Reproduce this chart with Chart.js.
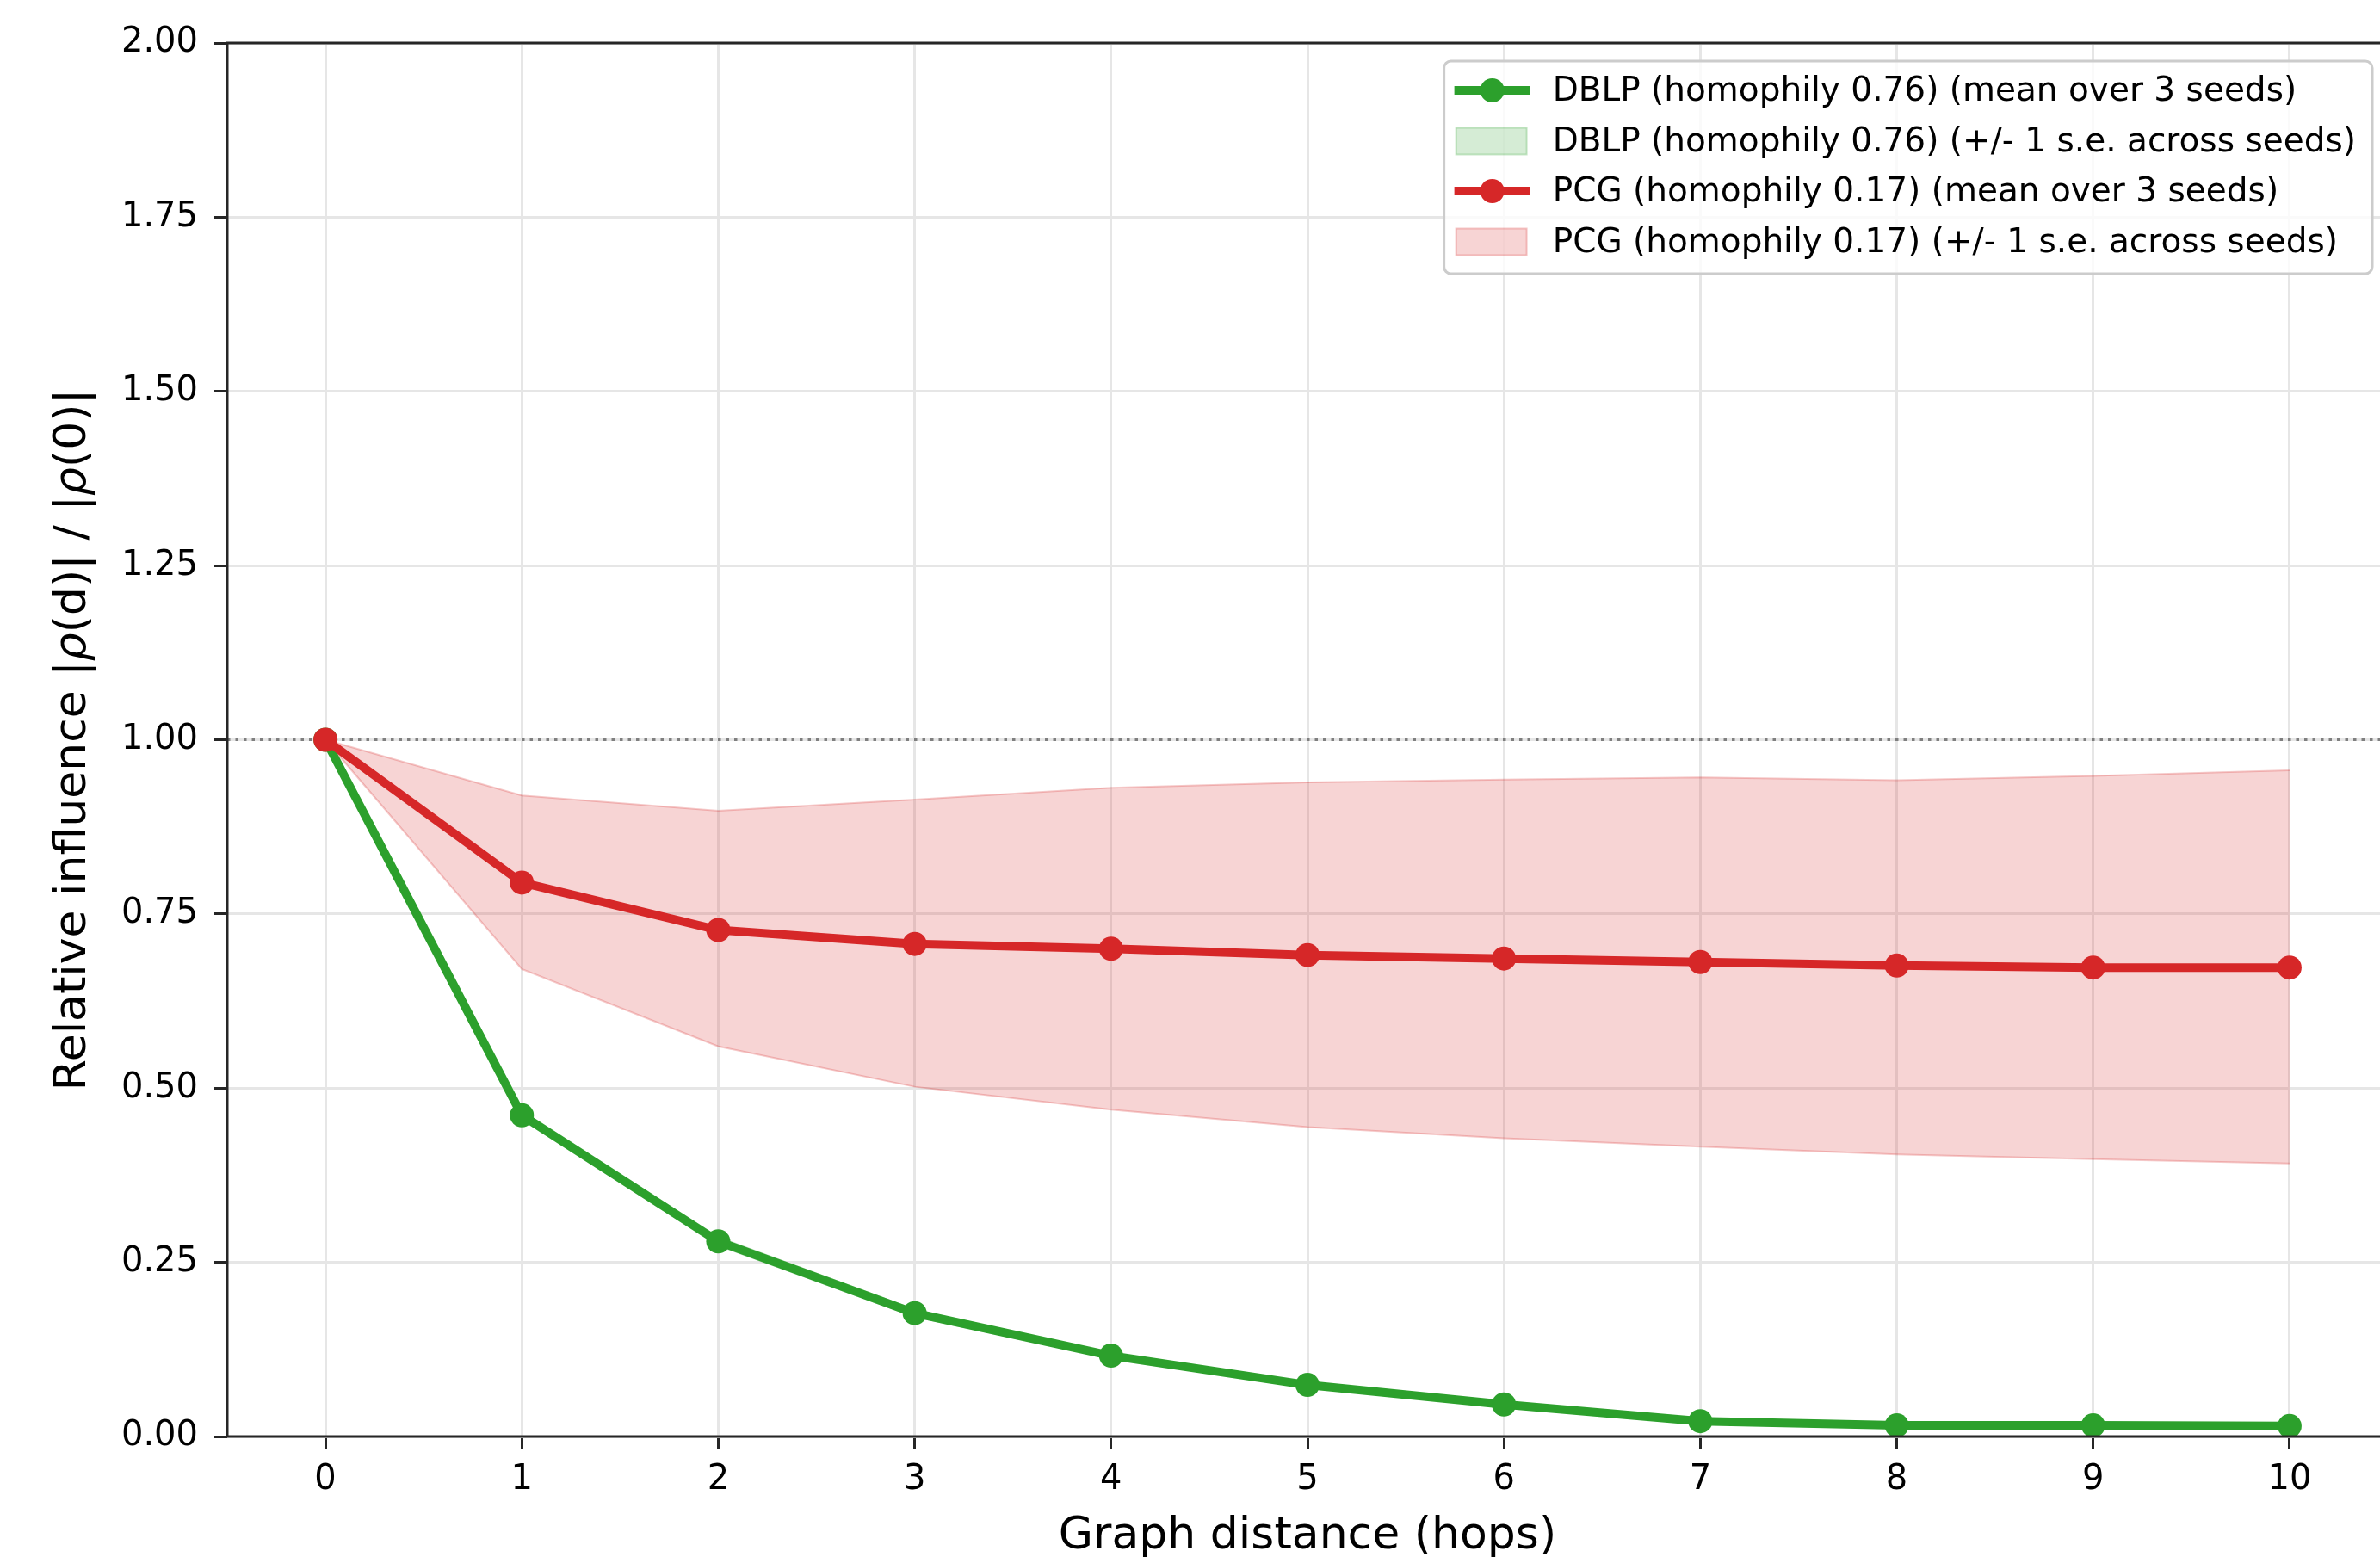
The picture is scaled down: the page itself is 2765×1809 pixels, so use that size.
<!DOCTYPE html>
<html>
<head>
<meta charset="utf-8">
<script src="https://cdn.jsdelivr.net/npm/chart.js@4.4.1/dist/chart.umd.min.js"></script>
<style>
  html, body { margin: 0; padding: 0; background: #fff; overflow: hidden; }
  #wrap { width: 2788px; height: 1809px; }
</style>
</head>
<body>
<div id="wrap"><canvas id="influence" width="2788" height="1809"></canvas></div>
<script>
// values
const distances = [0, 1, 2, 3, 4, 5, 6, 7, 8, 9, 10];
const yTicks = [0, 0.25, 0.5, 0.75, 1.0, 1.25, 1.5, 1.75, 2.0];

const dblpMean  = [1.0, 0.461, 0.280, 0.177, 0.116, 0.074, 0.046, 0.022, 0.016, 0.016, 0.015];
const dblpUpper = [1.0, 0.467, 0.286, 0.182, 0.119, 0.077, 0.048, 0.024, 0.017, 0.017, 0.016];
const dblpLower = [1.0, 0.455, 0.274, 0.172, 0.112, 0.071, 0.044, 0.021, 0.015, 0.015, 0.014];

const pcgMean  = [1.0, 0.795, 0.727, 0.707, 0.700, 0.691, 0.686, 0.681, 0.676, 0.673, 0.673];
const pcgUpper = [1.0, 0.920, 0.898, 0.914, 0.931, 0.939, 0.943, 0.946, 0.942, 0.948, 0.956];
const pcgLower = [1.0, 0.671, 0.560, 0.502, 0.469, 0.444, 0.428, 0.416, 0.405, 0.398, 0.392];

const referenceLevel = 1.0;

// y title pieces: [text, italic]
const yTitleParts = [["Relative influence |", false], ["ρ", true], ["(d)| / |", false], ["ρ", true], ["(0)|", false]];

const GREEN = "#2ca02c";
const RED = "#d62728";
const FONT = "'DejaVu Sans', sans-serif";

const pts = arr => arr.map((v, i) => ({ x: distances[i], y: v }));

function meanSet(label, values, color) {
    return {
        label: label,
        data: pts(values),
        borderColor: color,
        backgroundColor: color,
        borderWidth: 10,
        pointRadius: 14,
        pointBorderWidth: 0,
        pointBackgroundColor: color,
        tension: 0,
        fill: false,
        _kind: "line"
    };
}
function bandSet(label, values, rgb, fillPrev) {
    return {
        label: label,
        data: pts(values),
        borderColor: `rgba(${rgb},0.25)`,
        backgroundColor: `rgba(${rgb},0.2)`,
        borderWidth: 2,
        pointRadius: 0,
        tension: 0,
        fill: fillPrev ? "-1" : false,
        _kind: fillPrev ? "band" : "hidden"
    };
}

const datasets = [
    meanSet("PCG (homophily 0.17) (mean over 3 seeds)", pcgMean, RED),
    meanSet("DBLP (homophily 0.76) (mean over 3 seeds)", dblpMean, GREEN),
    bandSet("pcg upper", pcgUpper, "214,39,40", false),
    bandSet("PCG (homophily 0.17) (+/- 1 s.e. across seeds)", pcgLower, "214,39,40", true),
    bandSet("dblp upper", dblpUpper, "44,160,44", false),
    bandSet("DBLP (homophily 0.76) (+/- 1 s.e. across seeds)", dblpLower, "44,160,44", true)
];
// legend order as in the figure
const legendOrder = [1, 5, 0, 3];

// dotted reference line at y = 1, spines, and the y title with italic rho
const decor = {
    id: "decor",
    beforeDatasetsDraw(chart) {
        const { ctx, chartArea, scales } = chart;
        const y = scales.y.getPixelForValue(referenceLevel);
        ctx.save();
        ctx.strokeStyle = "#7f7f7f";
        ctx.lineWidth = 3;
        ctx.setLineDash([3.5, 6]);
        ctx.beginPath();
        ctx.moveTo(chartArea.left, y);
        ctx.lineTo(chartArea.right, y);
        ctx.stroke();
        ctx.restore();
    },
    afterDatasetsDraw(chart) {
        const { ctx, chartArea } = chart;
        ctx.save();
        ctx.strokeStyle = "#262626";
        ctx.lineWidth = 3;
        ctx.beginPath();
        ctx.moveTo(chartArea.left, chartArea.top);
        ctx.lineTo(chartArea.right, chartArea.top);
        ctx.moveTo(chartArea.left, chartArea.top - 1.5);
        ctx.lineTo(chartArea.left, chartArea.bottom + 1.5);
        ctx.moveTo(chartArea.left, chartArea.bottom);
        ctx.lineTo(chartArea.right, chartArea.bottom);
        ctx.stroke();

        // y axis title
        const fonts = { n: `52px ${FONT}`, i: `italic 52px ${FONT}` };
        const widths = yTitleParts.map(([t, it]) => { ctx.font = it ? fonts.i : fonts.n; return ctx.measureText(t).width; });
        const total = widths.reduce((a, b) => a + b, 0);
        ctx.translate(85, (chartArea.top + chartArea.bottom) / 2);
        ctx.rotate(-Math.PI / 2);
        ctx.fillStyle = "#000";
        ctx.textBaseline = "middle";
        ctx.textAlign = "left";
        let x = -total / 2;
        yTitleParts.forEach(([t, it], i) => {
            ctx.font = it ? fonts.i : fonts.n;
            ctx.fillText(t, x, 0);
            x += widths[i];
        });
        ctx.restore();
    }
};

// matplotlib-like legend box in the upper right
const boxLegend = {
    id: "boxLegend",
    afterDraw(chart) {
        const { ctx, chartArea } = chart;
        ctx.save();
        ctx.font = `39px ${FONT}`;
        const labels = legendOrder.map(i => chart.data.datasets[i].label);
        const textW = Math.max(...labels.map(t => ctx.measureText(t).width));
        const padL = 12, handleW = 88, gap = 26, padR = 19;
        const w = padL + handleW + gap + textW + padR;
        const h = 247;
        const right = chartArea.right - 18;
        const left = right - w;
        const top = chartArea.top + 21;

        ctx.fillStyle = "rgba(255,255,255,0.8)";
        ctx.strokeStyle = "#cccccc";
        ctx.lineWidth = 3;
        ctx.beginPath();
        ctx.roundRect(left, top, w, h, 8);
        ctx.fill();
        ctx.stroke();

        legendOrder.forEach((idx, row) => {
            const ds = chart.data.datasets[idx];
            const cy = top + 34 + row * 58.5;
            const hx = left + padL;
            if (ds._kind === "line") {
                ctx.strokeStyle = ds.borderColor;
                ctx.lineWidth = 10;
                ctx.beginPath();
                ctx.moveTo(hx, cy);
                ctx.lineTo(hx + handleW, cy);
                ctx.stroke();
                ctx.fillStyle = ds.borderColor;
                ctx.beginPath();
                ctx.arc(hx + handleW / 2, cy, 14, 0, Math.PI * 2);
                ctx.fill();
            } else {
                ctx.fillStyle = ds.backgroundColor;
                ctx.fillRect(hx + 2, cy - 15, handleW - 6, 31);
                ctx.strokeStyle = ds.borderColor;
                ctx.lineWidth = 2;
                ctx.strokeRect(hx + 2, cy - 15, handleW - 6, 31);
            }
            ctx.fillStyle = "#000";
            ctx.textAlign = "left";
            ctx.textBaseline = "middle";
            ctx.fillText(ds.label, hx + handleW + gap, cy + 2);
        });
        ctx.restore();
    }
};

new Chart(document.getElementById("influence").getContext("2d"), {
    type: "line",
    data: { datasets: datasets },
    options: {
        responsive: false,
        animation: false,
        devicePixelRatio: 1,
        layout: { padding: { top: 50, right: 3, left: 0, bottom: 0 } },
        plugins: {
            legend: { display: false },
            tooltip: { enabled: false },
            filler: { propagate: false }
        },
        scales: {
            x: {
                type: "linear",
                min: -0.5,
                max: 10.5,
                afterBuildTicks: axis => { axis.ticks = distances.map(v => ({ value: v })); },
                afterFit: axis => { axis.height = 140; },
                ticks: {
                    font: { family: FONT, size: 40 },
                    color: "#000",
                    padding: 12,
                    maxRotation: 0,
                    callback: v => String(v)
                },
                grid: {
                    color: "#e6e6e6",
                    lineWidth: 3,
                    tickColor: "#262626",
                    tickLength: 15,
                    tickWidth: 3
                },
                border: { display: false },
                title: {
                    display: true,
                    text: "Graph distance (hops)",
                    color: "#000",
                    font: { family: FONT, size: 52, lineHeight: 0.9 },
                    padding: { top: 0, bottom: 0 }
                }
            },
            y: {
                min: 0,
                max: 2,
                afterBuildTicks: axis => { axis.ticks = yTicks.map(v => ({ value: v })); },
                afterFit: axis => { axis.width = 264; },
                ticks: {
                    font: { family: FONT, size: 40 },
                    color: "#000",
                    padding: 19,
                    callback: v => Number(v).toFixed(2)
                },
                grid: {
                    color: "#e6e6e6",
                    lineWidth: 3,
                    tickColor: "#262626",
                    tickLength: 15,
                    tickWidth: 3
                },
                border: { display: false },
                title: { display: false }
            }
        }
    },
    plugins: [decor, boxLegend]
});
</script>
</body>
</html>
